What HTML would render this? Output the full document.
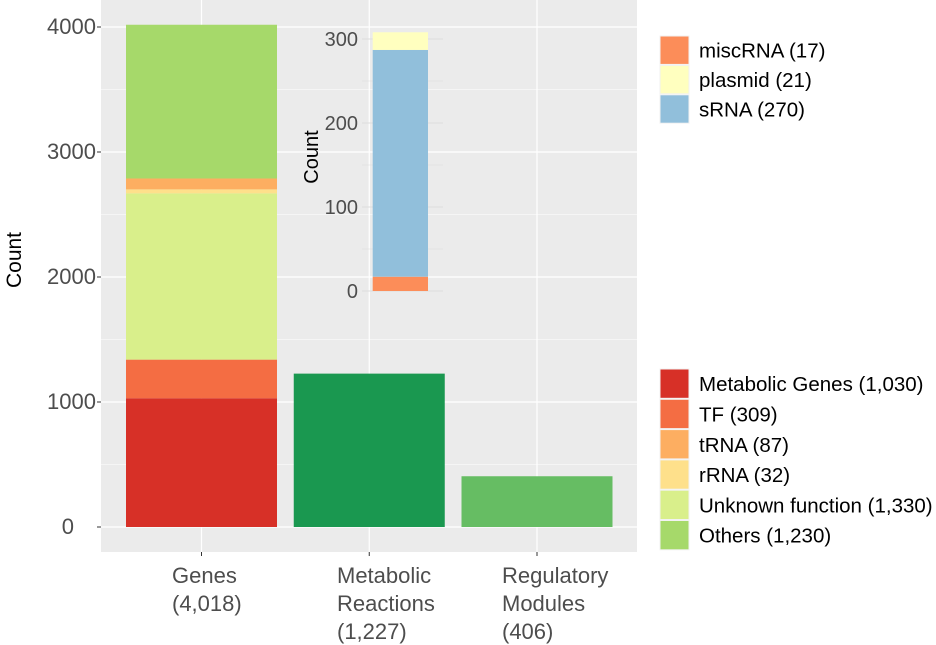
<!DOCTYPE html>
<html><head><meta charset="utf-8"><style>
body{margin:0;background:#fff;}
svg{display:block;font-family:"Liberation Sans",Arial,sans-serif;}
</style></head><body>
<svg id="chart" width="936" height="645">
  <rect x="101" y="0" width="536" height="552" fill="#ebebeb"/>
  <g id="grid"></g><g id="bars"></g><g id="yaxis"></g><g id="xaxis"></g>
  <g id="inset"></g>
  <text transform="translate(21,260) rotate(-90)" text-anchor="middle" font-size="21" fill="#000">Count</text>
  <g id="legend"></g>
</svg>
<script>
const categories = ["Genes","Metabolic Reactions","Regulatory Modules"];
const catLabels = [["Genes","(4,018)"],["Metabolic","Reactions","(1,227)"],["Regulatory","Modules","(406)"]];
const geneParts = ["Metabolic Genes","TF","Unknown function","rRNA","tRNA","Others"];
const geneValues = [1030,309,1330,32,87,1230];
const geneColors = ["#d73027","#f46d43","#d9ef8b","#fee08b","#fdae61","#a6d96a"];
const otherValues = [1227,406];
const otherColors = ["#1a9850","#66bd63"];
const yTicks = [0,1000,2000,3000,4000];
const insetParts = ["miscRNA","sRNA","plasmid"];
const insetValues = [17,270,21];
const insetColors = ["#fc8d59","#91bfdb","#ffffbf"];
const insetTicks = [0,100,200,300];
const legendTop = [["miscRNA (17)","#fc8d59"],["plasmid (21)","#ffffbf"],["sRNA (270)","#91bfdb"]];
const legendBottom = [["Metabolic Genes (1,030)","#d73027"],["TF (309)","#f46d43"],["tRNA (87)","#fdae61"],["rRNA (32)","#fee08b"],["Unknown function (1,330)","#d9ef8b"],["Others (1,230)","#a6d96a"]];

const NS="http://www.w3.org/2000/svg";
function mk(parent,tag,attrs,text){const e=document.createElementNS(NS,tag);for(const k in attrs)e.setAttribute(k,attrs[k]);if(text!==undefined)e.textContent=text;parent.appendChild(e);return e;}
const y=v=>527-v*0.125;
const xc=i=>201.5+i*167.75;
const bw=151;
const grid=document.getElementById('grid');
for(let v=0;v<=4500;v+=500){if(y(v)<0)continue;const l=mk(grid,'line',{x1:101,x2:637,y1:y(v),y2:y(v),stroke:'#fff','stroke-width':v%1000?0.6:1.2});

}
categories.forEach((c,i)=>{const l=mk(grid,'line',{x1:xc(i),x2:xc(i),y1:0,y2:552,stroke:'#fff','stroke-width':1.2});

});
const bars=document.getElementById('bars');
let cum=0;
geneValues.forEach((v,k)=>{const r=mk(bars,'rect',{x:xc(0)-bw/2,y:y(cum+v),width:bw,height:v*0.125,fill:geneColors[k]});

cum+=v;});
otherValues.forEach((v,k)=>{const r=mk(bars,'rect',{x:xc(k+1)-bw/2,y:y(v),width:bw,height:v*0.125,fill:otherColors[k]});

});
const ya=document.getElementById('yaxis');
yTicks.forEach(t=>{const tx=mk(ya,'text',{x:t?96:74,y:y(t)+7,'text-anchor':'end','font-size':22,fill:'#4d4d4d'},String(t));


mk(ya,'line',{x1:97,x2:101,y1:y(t),y2:y(t),stroke:'#333','stroke-width':1});});
const xa=document.getElementById('xaxis');
catLabels.forEach((lines,i)=>{mk(xa,'line',{x1:xc(i),x2:xc(i),y1:552,y2:556,stroke:'#333'});
const t=mk(xa,'text',{'font-size':22,fill:'#4d4d4d'});


const x0=[172,337,502][i];
lines.forEach((s,j)=>mk(t,'tspan',{x:x0,y:583+j*28},s));});
// inset
const ins=document.getElementById('inset');
const iy=v=>291-v*0.84;
for(let v=0;v<=300;v+=50){const l=mk(ins,'line',{x1:362,x2:443,y1:iy(v),y2:iy(v),stroke:'#dcdcdc','stroke-width':v%100?0.6:1});

}
let ic=0;
insetValues.forEach((v,k)=>{const r=mk(ins,'rect',{x:372.7,y:iy(ic+v),width:55.3,height:v*0.84,fill:insetColors[k]});

ic+=v;});
insetTicks.forEach(t=>{const tx=mk(ins,'text',{x:358,y:iy(t)+7,'text-anchor':'end','font-size':20,fill:'#4d4d4d'},String(t));

});
const it=mk(ins,'text',{transform:'translate(318,157) rotate(-90)','text-anchor':'middle','font-size':20,fill:'#000'},'Count');


// legends
const lg=document.getElementById('legend');
function legend(items,y0,step,nm){items.forEach((it,k)=>{mk(lg,'rect',{x:660,y:y0+k*step,width:29,height:step-1,fill:it[1],stroke:'#f2f2f2','stroke-width':1});
const t=mk(lg,'text',{x:699,y:y0+k*step+step/2+7,'font-size':20.5,fill:'#000'},it[0]);

});}
legend(legendTop,36,29.4,'inset-legend-entry');
legend(legendBottom,369,30.3,'legend-entry');
</script>
</body></html>
